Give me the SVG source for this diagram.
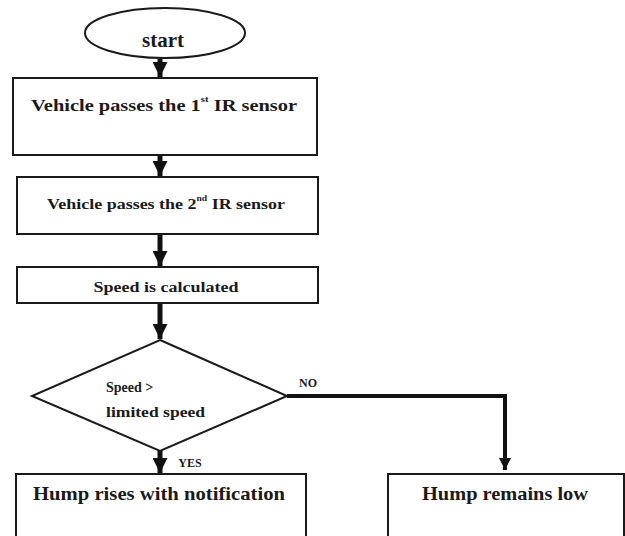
<svg xmlns="http://www.w3.org/2000/svg" width="625" height="536" viewBox="0 0 625 536">
<defs>
<style>
.box{fill:#fff;stroke:#1a1a1a;stroke-width:2}
.t{font-family:"Liberation Serif","Times New Roman",serif;font-weight:bold;fill:#1a1a1a;text-anchor:middle}
.c{fill:none;stroke:#111;stroke-width:5}
.cn{fill:none;stroke:#111;stroke-width:4}
</style>
<marker id="ah" viewBox="0 0 10 10" refX="10" refY="5" markerWidth="3" markerHeight="3" orient="auto" markerUnits="strokeWidth">
<path d="M0,0 L10,5 L0,10 z" fill="#111"/>
</marker>
</defs>
<rect width="625" height="536" fill="#fff"/>
<g id="connectors">
<line class="c" x1="160" y1="59" x2="160" y2="77" marker-end="url(#ah)"/>
<line class="c" x1="160" y1="156" x2="160" y2="176" marker-end="url(#ah)"/>
<line class="c" x1="160" y1="235" x2="160" y2="266" marker-end="url(#ah)"/>
<line class="c" x1="160" y1="304" x2="160" y2="339" marker-end="url(#ah)"/>
<line class="c" x1="160" y1="451" x2="160" y2="473" marker-end="url(#ah)"/>
<polyline class="cn" points="287,396 505,396 505,470" marker-end="url(#ah)"/>
<text class="t" x="190" y="467" font-size="12">YES</text>
<text class="t" x="308" y="387" font-size="12">NO</text>
</g>
<g id="start">
<ellipse cx="165" cy="33" rx="80" ry="25" fill="#fff" stroke="#1a1a1a" stroke-width="2"/>
<text class="t" x="163" y="47" font-size="21">start</text>
</g>
<g id="sensor1">
<rect class="box" x="13" y="78" width="304" height="77"/>
<text class="t" x="164" y="111" font-size="17" textLength="266" lengthAdjust="spacingAndGlyphs">Vehicle passes the 1<tspan font-size="9" dy="-9">st</tspan><tspan dy="9"> IR sensor</tspan></text>
</g>
<g id="sensor2">
<rect class="box" x="17" y="177" width="301" height="57"/>
<text class="t" x="166" y="209" font-size="15" textLength="238" lengthAdjust="spacingAndGlyphs">Vehicle passes the 2<tspan font-size="8" dy="-8">nd</tspan><tspan dy="8"> IR sensor</tspan></text>
</g>
<g id="calc">
<rect class="box" x="17" y="267" width="301" height="36"/>
<text class="t" x="166" y="292" font-size="15" textLength="145" lengthAdjust="spacingAndGlyphs">Speed is calculated</text>
</g>
<g id="decision">
<polygon points="160,340 287,396 160,451 32,396" fill="#fff" stroke="#1a1a1a" stroke-width="2"/>
<text font-family="Liberation Serif,serif" font-weight="bold" fill="#1a1a1a" x="106" y="392" font-size="14">Speed &gt;</text>
<text font-family="Liberation Serif,serif" font-weight="bold" fill="#1a1a1a" x="106" y="417" font-size="14" textLength="99" lengthAdjust="spacingAndGlyphs">limited speed</text>
</g>
<g id="rises">
<rect class="box" x="16" y="474" width="290" height="80"/>
<text class="t" x="159" y="500" font-size="19" textLength="252" lengthAdjust="spacingAndGlyphs">Hump rises with notification</text>
</g>
<g id="low">
<rect class="box" x="388" y="474" width="236" height="80"/>
<text class="t" x="505" y="500" font-size="19" textLength="166" lengthAdjust="spacingAndGlyphs">Hump remains low</text>
</g>
</svg>
